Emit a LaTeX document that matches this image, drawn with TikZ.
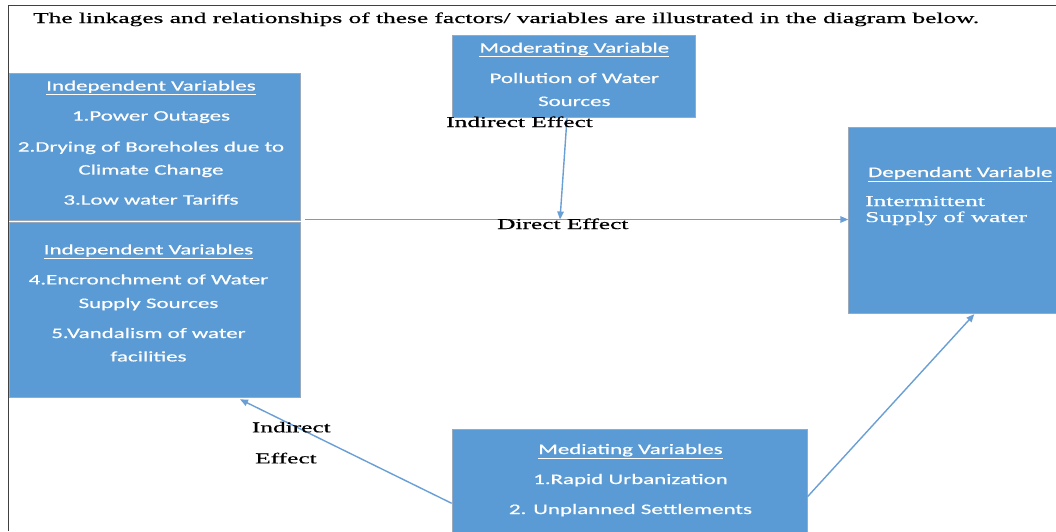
\documentclass[tikz,border=0pt]{standalone}
\usepackage{fontspec}
\usetikzlibrary{arrows.meta,calc}
\newfontfamily\boxfont[FakeStretch=1.58,FakeBold=0.5]{Carlito}
\newfontfamily\serfont[FakeStretch=1.69,FakeBold=0.6]{Liberation Serif}
\definecolor{boxblue}{HTML}{5B9BD5}
\definecolor{arrowblue}{HTML}{6A9FD6}
\definecolor{edgegray}{HTML}{9AA9BC}
\definecolor{framegray}{HTML}{404040}
\begin{document}
\begin{tikzpicture}[x=1pt,y=-1pt,
  varbox/.style={draw=edgegray, line width=0.8pt, fill=boxblue, inner sep=0pt, anchor=north west},
  boxtext/.style={anchor=base, inner sep=0pt, text=white, font=\boxfont\fontsize{14.5}{17}\selectfont},
  sertext/.style={anchor=base west, inner sep=0pt, text=black, font=\serfont\fontsize{15}{17}\selectfont},
  effect/.style={draw=arrowblue, line width=1.4pt, -{Triangle[length=8pt,width=6.5pt]}},
]
\useasboundingbox (0,0) rectangle (1056,531);
\fill[white] (0,0) rectangle (1056,531);
\draw[framegray, line width=1.6pt] (8.5,531) -- (8.5,5.5) -- (1056,5.5);

% boxes
\node[varbox, minimum width=290.7pt, minimum height=147.3pt] (ind1) at (9.3,72.7) {};
\node[varbox, minimum width=290.7pt, minimum height=174.7pt] (ind2) at (9.3,222.3) {};
\node[varbox, minimum width=243.3pt, minimum height=82.3pt] (mod) at (451.7,35) {};
\node[varbox, minimum width=215pt, minimum height=185.4pt] (dep) at (848.3,127.3) {};
\node[varbox, minimum width=355pt, minimum height=115pt] (med) at (451.7,429.3) {};

% title
\node[sertext] (title) at (33,23) {The linkages and relationships of these factors/ variables are illustrated in the diagram below.};

% independent variables 1
\node[boxtext] (i1h) at (151,90.6) {\underline{Independent Variables}};
\node[boxtext] (i1a) at (151,120.6) {1.Power Outages};
\node[boxtext] (i1b) at (151,151.6) {2.Drying of Boreholes due to};
\node[boxtext] (i1c) at (151,174.6) {Climate Change};
\node[boxtext] (i1d) at (151,204.6) {3.Low water Tariffs};

% independent variables 2
\node[boxtext] (i2h) at (148.5,254.4) {\underline{Independent Variables}};
\node[boxtext] (i2a) at (148.5,284.4) {4.Encronchment of Water};
\node[boxtext] (i2b) at (148.5,308) {Supply Sources};
\node[boxtext] (i2c) at (148.5,338) {5.Vandalism of water};
\node[boxtext] (i2d) at (148.5,361.4) {facilities};

% moderating
\node[boxtext] (mh) at (574.3,52.7) {\underline{Moderating Variable}};
\node[boxtext] (ma) at (574.3,83) {Pollution of Water};
\node[boxtext] (mb) at (574.3,106) {Sources};

% dependent
\node[boxtext, anchor=base west] (dh) at (868,177) {\underline{Dependant Variable}};
\node[sertext, text=white] (da) at (865,206) {Intermittent};
\node[sertext, text=white] (db) at (865,222) {Supply of water};

% mediating
\node[boxtext] (meh) at (630.5,454) {\underline{Mediating Variables}};
\node[boxtext] (mea) at (630.5,484) {1.Rapid Urbanization};
\node[boxtext] (meb) at (630.5,514) {2. Unplanned Settlements};

% connectors
\coordinate (dstart) at (305,219.5);
\coordinate (dmid) at (560,219.5);
\draw[effect] (dstart) -- (dstart -| dep.west);
\draw[effect] ($(mod.south west)+(115.3,0)$) -- (dmid);
\draw[effect] ($(med.north west)+(0,74)$) -- ($(ind2.south west)+(230.7,1.5)$);
\draw[effect] ($(med.north east)+(0,67.4)$) -- ($(dep.south west)+(126,0.6)$);

% effect labels
\node[sertext] (ie1) at (446,127) {Indirect Effect};
\node[sertext] (de) at (497,229) {Direct Effect};
\node[sertext] (ie2a) at (251.7,432.3) {Indirect};
\node[sertext] (ie2b) at (255,463.3) {Effect};
\end{tikzpicture}
\end{document}
